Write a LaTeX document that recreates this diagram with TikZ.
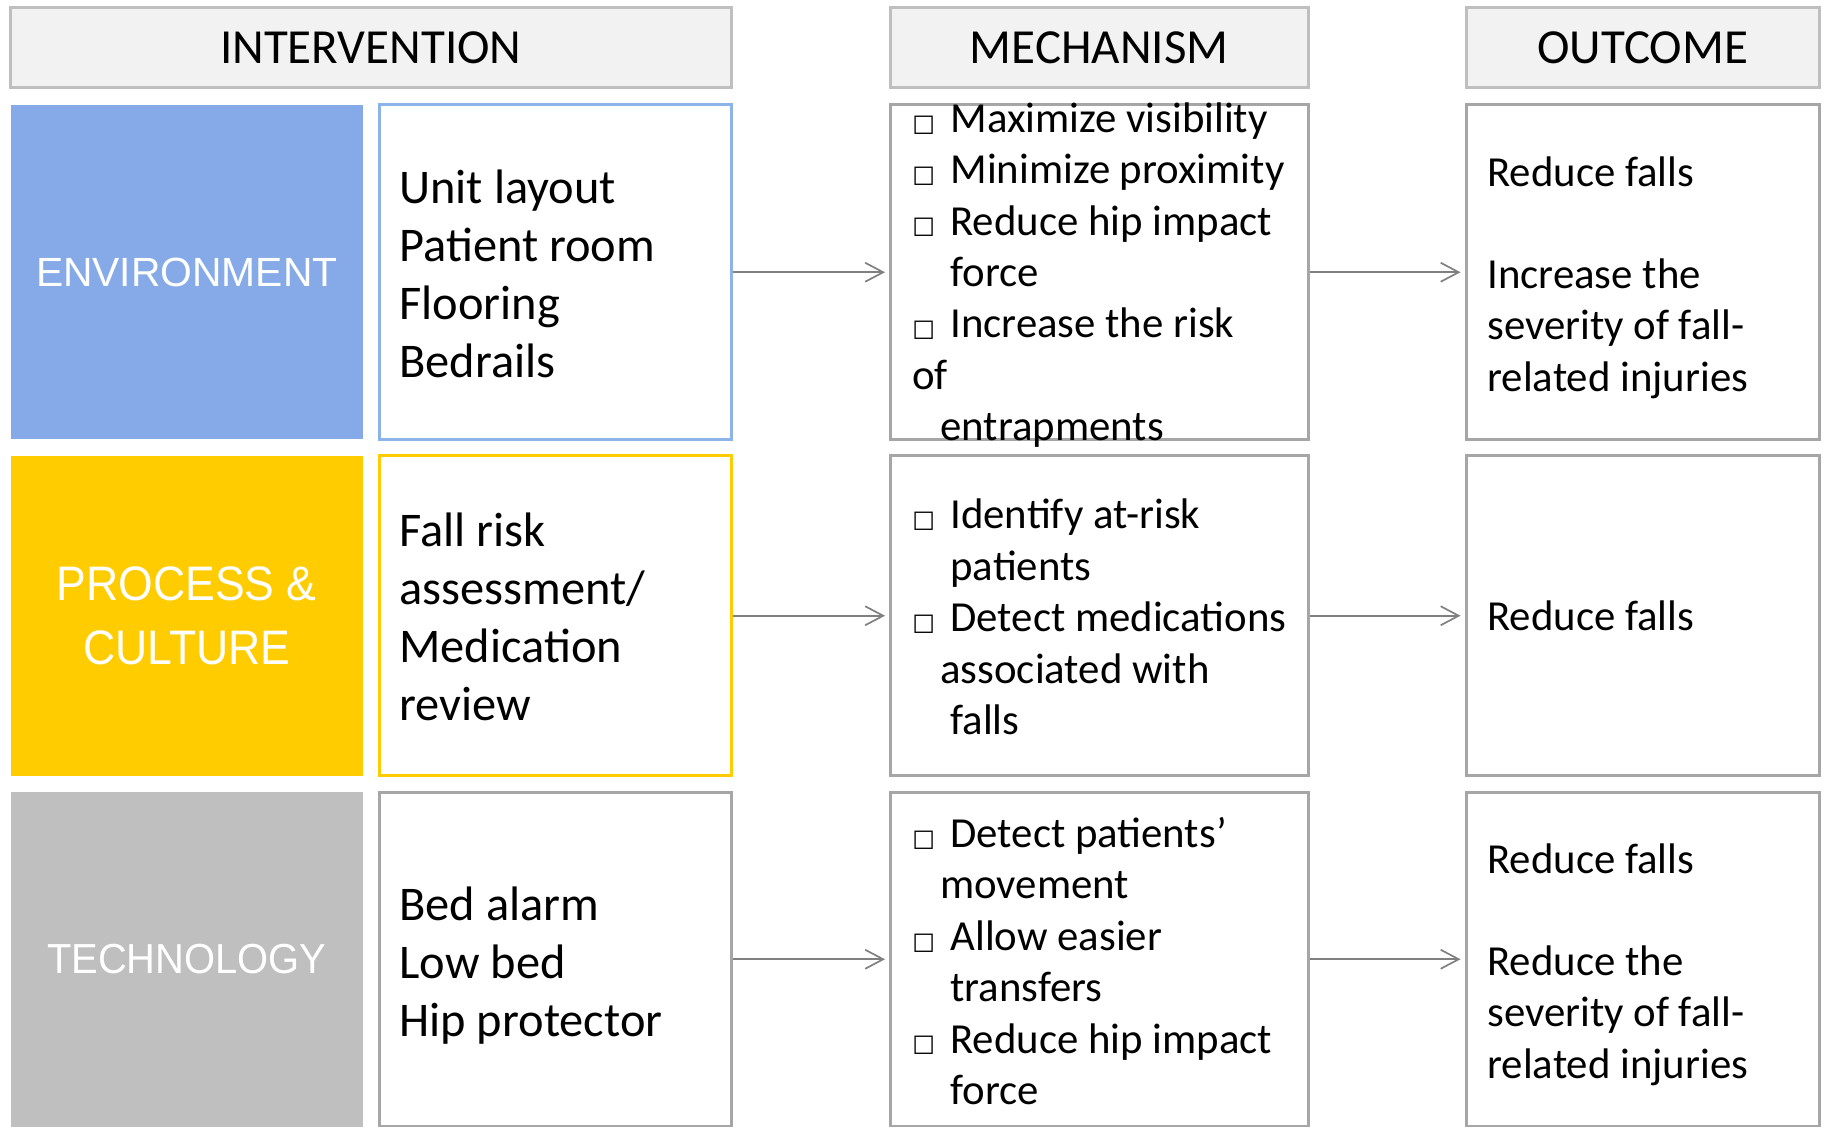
\documentclass[tikz,border=0pt]{standalone}
\usepackage{fontspec}
\setmainfont{Carlito}
\newfontfamily\symfont{DejaVu Sans}
\newfontfamily\catfont{Liberation Sans}
\newfontfamily\catfontb[FakeStretch=0.92]{Liberation Sans}
\newfontfamily\catfontc[FakeStretch=0.95]{Liberation Sans}
\usetikzlibrary{arrows.meta}

\definecolor{hdrfill}{HTML}{F2F2F2}
\definecolor{hdrline}{HTML}{BFBFBF}
\definecolor{boxline}{HTML}{A6A6A6}
\definecolor{envblue}{HTML}{86AAE8}
\definecolor{envline}{HTML}{8DB4E8}
\definecolor{procyel}{HTML}{FFCC00}
\definecolor{techgray}{HTML}{BFBFBF}
\definecolor{arrowgray}{HTML}{808080}

\newcommand{\sq}{\makebox[19pt][l]{\raisebox{0.6pt}{\symfont\fontsize{12pt}{12pt}\selectfont □}}}

\tikzset{
  hdr/.style={draw=hdrline, fill=hdrfill, line width=1.5pt, inner sep=0pt,
    minimum height=40pt, font=\fontsize{24.5pt}{28pt}\selectfont},
  catbox/.style={inner sep=0pt, minimum width=176.25pt, text=white, align=center},
  listbox/.style={draw, fill=white, line width=1.5pt, inner sep=0pt},
  intxt/.style={anchor=west, inner sep=0pt, align=left, font=\fontsize{24.2pt}{29pt}\selectfont},
  mtxt/.style={anchor=west, inner sep=0pt, align=left, font=\fontsize{21.4pt}{25.7pt}\selectfont},
  arr/.style={draw=arrowgray, line width=0.85pt, -{Straight Barb[length=9pt,width=9.5pt]}, shorten >=2pt}
}

\begin{document}
\begin{tikzpicture}[x=0.5pt,y=-0.5pt]
\useasboundingbox (0,0) rectangle (1823,1127);

% headers
\node[hdr, minimum width=360.25pt] (hI) at (370.75,48) {INTERVENTION};
\node[hdr, minimum width=208.75pt] (hM) at (1099.25,48) {MECHANISM};
\node[hdr, minimum width=176.75pt] (hO) at (1642.75,48) {OUTCOME};

% row 1
\node[catbox, fill=envblue, minimum height=167.25pt, font=\catfont\fontsize{20.4pt}{24pt}\selectfont] (k1) at (186.75,272.25) {ENVIRONMENT};
\node[listbox, draw=envline, minimum width=176pt, minimum height=167.25pt] (c1) at (555,272.25) {};
\node[listbox, draw=boxline, minimum width=208.75pt, minimum height=167.25pt] (m1) at (1099.25,272.25) {};
\node[listbox, draw=boxline, minimum width=176.75pt, minimum height=167.25pt] (o1) at (1642.75,272.25) {};

% row 2
\node[catbox, fill=procyel, minimum height=159.75pt, font=\catfontb\fontsize{24.2pt}{32pt}\selectfont] (k2) at (186.75,615.75) {PROCESS \&\\CULTURE};
\node[listbox, draw=procyel, minimum width=176pt, minimum height=159.75pt] (c2) at (555,615.75) {};
\node[listbox, draw=boxline, minimum width=208.75pt, minimum height=159.75pt] (m2) at (1099.25,615.75) {};
\node[listbox, draw=boxline, minimum width=176.75pt, minimum height=159.75pt] (o2) at (1642.75,615.75) {};

% row 3
\node[catbox, fill=techgray, minimum height=167.25pt, font=\catfontc\fontsize{21pt}{24pt}\selectfont] (k3) at (186.75,959.25) {TECHNOLOGY};
\node[listbox, draw=boxline, minimum width=176pt, minimum height=167.25pt] (c3) at (555,959.25) {};
\node[listbox, draw=boxline, minimum width=208.75pt, minimum height=167.25pt] (m3) at (1099.25,959.25) {};
\node[listbox, draw=boxline, minimum width=176.75pt, minimum height=167.25pt] (o3) at (1642.75,959.25) {};

% intervention texts
\node[intxt] (t1) at (399,274) {Unit layout\\Patient room\\Flooring\\Bedrails};
\node[intxt] (t2) at (399,617) {Fall risk\\assessment/\\Medication\\review};
\node[intxt] (t3) at (399,965.5) {Bed alarm\\Low bed\\Hip protector};

% mechanism texts
\node[mtxt] (u1) at (912,275) {\sq Maximize visibility\\
\sq Minimize proximity\\
\sq Reduce hip impact\\
\hspace*{19pt}force\\
\sq Increase the risk\\
of\\
\hspace*{14pt}entrapments};
\node[mtxt] (u2) at (912,617) {\sq Identify at-risk\\
\hspace*{19pt}patients\\
\sq Detect medications\\
\hspace*{14pt}associated with\\
\hspace*{19pt}falls};
\node[mtxt] (u3) at (912,961) {\sq Detect patients’\\
\hspace*{14pt}movement\\
\sq Allow easier\\
\hspace*{19pt}transfers\\
\sq Reduce hip impact\\
\hspace*{19pt}force};

% outcome texts
\node[mtxt] (v1) at (1487,277.5) {Reduce falls\\[25.5pt]Increase the\\severity of fall-\\related injuries};
\node[mtxt] (v2) at (1487,616) {Reduce falls};
\node[mtxt] (v3) at (1487,964.5) {Reduce falls\\[25.5pt]Reduce the\\severity of fall-\\related injuries};

% arrows
\draw[arr] (c1.east) -- (m1.west);
\draw[arr] (m1.east) -- (o1.west);
\draw[arr] (c2.east) -- (m2.west);
\draw[arr] (m2.east) -- (o2.west);
\draw[arr] (c3.east) -- (m3.west);
\draw[arr] (m3.east) -- (o3.west);
\end{tikzpicture}
\end{document}
